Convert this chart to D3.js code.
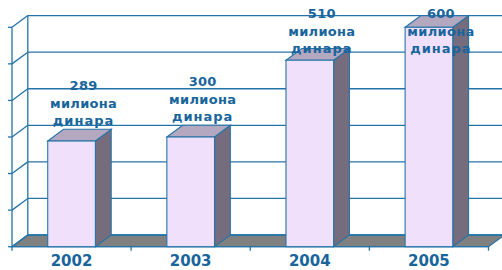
<!DOCTYPE html>
<html><head><meta charset="utf-8">
<script src="https://cdn.jsdelivr.net/npm/d3@7"></script>
<style>body{margin:0;background:#fff}svg{display:block}</style>
</head><body><svg id="c" width="502" height="270"></svg>
<script>
const categories = ["2002", "2003", "2004", "2005"];
const values = [289, 300, 510, 600];
const labelLines = ["милиона", "динара"];
const yTicks = [0, 100, 200, 300, 400, 500, 600];

const svg = d3.select("#c");
const lineCol = "#2474a8", textCol = "#18659c";
const DX = 15.8, DY = -11.7;
const x = d3.scaleBand().domain(categories).range([12, 488.5]).paddingInner(0.6).paddingOuter(0.3);
const xb = d3.scaleBand().domain(categories).range([12, 488.5]);
const y = d3.scaleLinear().domain([0, 600]).range([246.7, 27.3]);
const x0 = 12, x1 = 488.5;
const poly = pts => pts.map(p => p.join(",")).join(" ");

// floor
svg.append("polygon").attr("points", poly([[x0, y(0)], [x1, y(0)], [x1 + DX, y(0) + DY], [x0 + DX, y(0) + DY]]))
  .attr("fill", "#808080").attr("stroke", lineCol).attr("stroke-width", 1.3);
// back wall gridlines and left wall diagonals
yTicks.forEach(t => {
  svg.append("line").attr("x1", x0 + DX).attr("x2", x1 + DX).attr("y1", y(t) + DY).attr("y2", y(t) + DY)
    .attr("stroke", lineCol).attr("stroke-width", 1.3);
  svg.append("line").attr("x1", x0).attr("x2", x0 + DX).attr("y1", y(t)).attr("y2", y(t) + DY)
    .attr("stroke", lineCol).attr("stroke-width", 1.3);
  svg.append("line").attr("x1", x0 - 4).attr("x2", x0).attr("y1", y(t)).attr("y2", y(t))
    .attr("stroke", lineCol).attr("stroke-width", 1.3);
});
svg.append("line").attr("x1", x0 + DX).attr("x2", x0 + DX).attr("y1", y(600) + DY).attr("y2", y(0) + DY)
  .attr("stroke", lineCol).attr("stroke-width", 1.3);
svg.append("line").attr("x1", x0).attr("x2", x0).attr("y1", y(600)).attr("y2", y(0))
  .attr("stroke", lineCol).attr("stroke-width", 1.3);
// bottom axis
svg.append("line").attr("x1", x0).attr("x2", x1).attr("y1", y(0)).attr("y2", y(0))
  .attr("stroke", lineCol).attr("stroke-width", 1.3);
categories.concat(["end"]).forEach((c, i) => {
  const xx = i < categories.length ? xb(c) : x1;
  svg.append("line").attr("x1", xx).attr("x2", xx).attr("y1", y(0)).attr("y2", y(0) + 4)
    .attr("stroke", lineCol).attr("stroke-width", 1.3);
});

// bars
categories.forEach((c, i) => {
  const l = x(c), r = x(c) + x.bandwidth(), t = y(values[i]), b = y(0);
  const g = svg.append("g").attr("stroke", lineCol).attr("stroke-width", 1.1).attr("stroke-linejoin", "miter");
  g.append("polygon").attr("points", poly([[r, t], [r + DX, t + DY], [r + DX, b + DY], [r, b]])).attr("fill", "#756c7e");
  g.append("polygon").attr("points", poly([[l, t], [l + DX, t + DY], [r + DX, t + DY], [r, t]])).attr("fill", "#b4a7c0");
  g.append("rect").attr("x", l).attr("y", t).attr("width", r - l).attr("height", b - t).attr("fill", "#f1e0fc");
});

// category labels
categories.forEach(c => {
  svg.append("text").attr("x", x(c) + x.bandwidth() / 2).attr("y", 266).attr("text-anchor", "middle")
    .attr("font-family", "DejaVu Sans").attr("font-weight", "bold").attr("font-size", 15)
    .attr("fill", textCol).text(c);
});

// data labels
categories.forEach((c, i) => {
  const cx = x(c) + x.bandwidth() / 2 + 12;
  const base = Math.max(y(values[i]) + DY - 39, 18.3);
  const txt = svg.append("text").attr("text-anchor", "middle")
    .attr("font-family", "DejaVu Sans").attr("font-weight", "bold").attr("font-size", 13)
    .attr("fill", textCol);
  [String(values[i])].concat(labelLines).forEach((s, k) => {
    txt.append("tspan").attr("x", cx).attr("y", base + k * 17.5).attr("letter-spacing", k === 2 ? 1 : 0.3).text(s);
  });
});
</script></body></html>
